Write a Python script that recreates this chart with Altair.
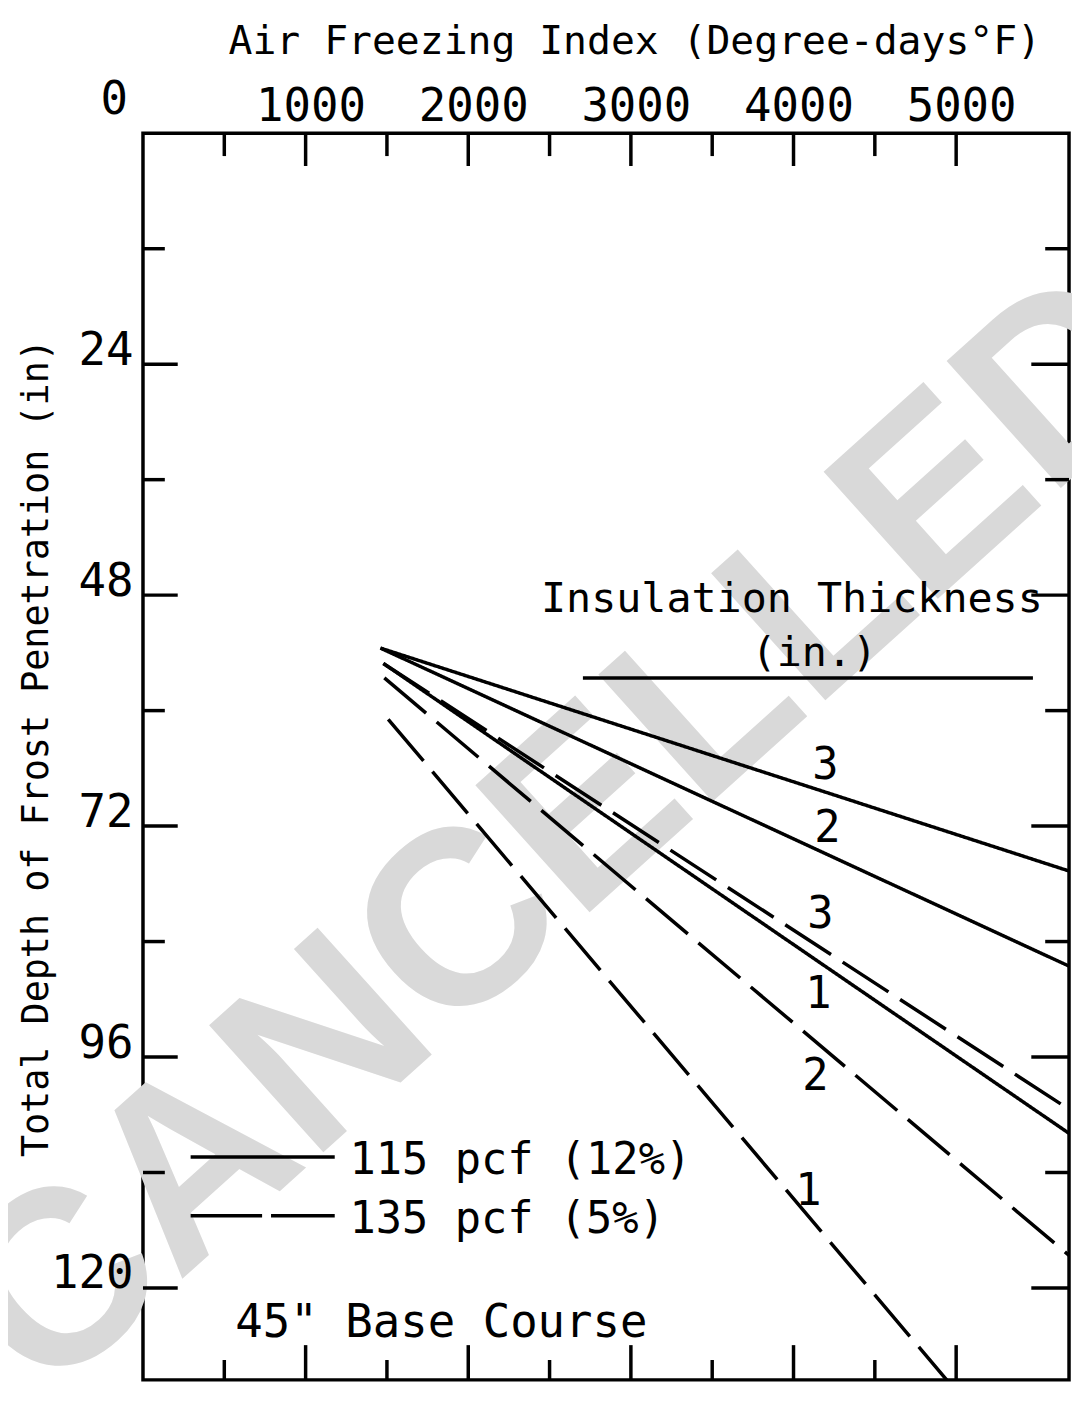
import altair as alt
import pandas as pd

FONT = "DejaVu Sans Mono"
INK = "black"

# ---------------- data ----------------
curve_id = ["s3", "s2", "s1", "d3", "d2", "d1"]
curve_density = ["115 pcf (12%)"] * 3 + ["135 pcf (5%)"] * 3
curve_x0 = [1460, 1460, 1478, 1478, 1484, 1508]
curve_y0 = [53.5, 53.5, 55.1, 55.1, 56.6, 60.9]
curve_x1 = [5700, 5700, 5700, 5700, 5700, 5014]
curve_y1 = [76.7, 86.6, 104.0, 101.5, 116.7, 131.0]

x_major = [1000, 2000, 3000, 4000, 5000]
x_minor = [500, 1500, 2500, 3500, 4500]
y_major = [24, 48, 72, 96, 120]
y_minor = [12, 36, 60, 84, 108]

thick_label = ["3", "2", "3", "1", "2", "1"]
thick_x = [4196, 4208, 4165, 4153, 4135, 4092]
thick_y = [65.8, 72.3, 81.2, 89.6, 98.1, 110.0]

legend_label = ["115 pcf (12%)", "135 pcf (5%)"]
legend_y = [106.4, 112.5]
legend_text_y = [106.8, 112.9]
legend_x0 = [293, 293]
legend_x1 = [1179, 1179]
legend_text_x = [1270, 1270]

W, H = 933, 1256
xs = alt.Scale(domain=[0, 5694], nice=False, zero=False)
ys = alt.Scale(domain=[0, 129.55], nice=False, zero=False, reverse=True)

x_axis = alt.Axis(
    orient="top", values=x_major, format="d", ticks=False, tickSize=0, domain=False, grid=False,
    labelFont=FONT, labelFontSize=46, labelColor=INK, labelPadding=13, labelBaseline="alphabetic",
    labelOffset=5,
    title="Air Freezing Index (Degree-days°F)", titleFont=FONT, titleFontSize=40,
    titleFontWeight="normal", titleColor=INK, titleX=495, titleY=-80,
    titleAlign="center", titleBaseline="alphabetic", zindex=2)
y_axis = alt.Axis(
    orient="left", values=y_major, format="d", ticks=False, tickSize=0, domain=False, grid=False,
    labelFont=FONT, labelFontSize=46, labelColor=INK, labelPadding=10, labelBaseline="alphabetic",
    labelOffset=0,
    title="Total Depth of Frost Penetration (in)", titleFont=FONT, titleFontSize=37,
    titleFontWeight="normal", titleColor=INK, titleAngle=270, titleX=-96, titleY=619,
    titleAlign="center", titleBaseline="alphabetic", zindex=2)

def X(f):
    return alt.X(f, scale=xs, axis=x_axis)

def Y(f):
    return alt.Y(f, scale=ys, axis=y_axis)

rows = []
for i in range(len(curve_id)):
    rows.append({"id": curve_id[i], "density": curve_density[i], "x": curve_x0[i], "y": curve_y0[i]})
    rows.append({"id": curve_id[i], "density": curve_density[i], "x": curve_x1[i], "y": curve_y1[i]})
curves = pd.DataFrame(rows)

# watermark
wm = alt.Chart(pd.DataFrame({"t": ["CANCELLED"], "x": [2585], "y": [73.0]})).mark_text(
    font="Liberation Sans", fontWeight="bold", fontSize=250, color="#d9d9d9",
    angle=318, align="center", baseline="middle"
).encode(x=X("x:Q"), y=Y("y:Q"), text="t:N")

lines = alt.Chart(curves).mark_line(strokeWidth=3.5, color=INK, strokeCap="butt", clip=True).encode(
    x=X("x:Q"), y=Y("y:Q"),
    detail="id:N",
    strokeDash=alt.StrokeDash("density:N", scale=alt.Scale(domain=legend_label, range=[[1, 0], [55, 14]]), legend=None),
)

def xt(vals, y0, y1):
    return alt.Chart(pd.DataFrame({"v": vals})).mark_rule(strokeWidth=3.5, color=INK).encode(
        x=X("v:Q"), y=alt.value(y0), y2=alt.value(y1))

def yt(vals, x0, x1):
    return alt.Chart(pd.DataFrame({"v": vals})).mark_rule(strokeWidth=3.5, color=INK).encode(
        y=Y("v:Q"), x=alt.value(x0), x2=alt.value(x1))

ticks = [
    xt(x_major, 0, 33), xt(x_minor, 0, 23),
    xt(x_major, H, H - 35), xt(x_minor, H, H - 20),
    yt(y_major, 0, 35), yt(y_minor, 0, 22),
    yt(y_major, W, W - 38), yt(y_minor, W, W - 24),
]

def txt(df, size, align="center", baseline="middle"):
    return alt.Chart(df).mark_text(font=FONT, fontSize=size, color=INK, align=align, baseline=baseline).encode(
        x=X("x:Q"), y=Y("y:Q"), text="t:N")

thick = txt(pd.DataFrame({"t": thick_label, "x": thick_x, "y": thick_y}), 44)
ins = txt(pd.DataFrame({"t": ["Insulation Thickness", "(in.)"], "x": [3990, 4128], "y": [48.4, 54.0]}), 42)
ins_rule = alt.Chart(pd.DataFrame({"x0": [2705], "x1": [5472], "y": [56.6]})).mark_rule(strokeWidth=3.5, color=INK).encode(
    x=X("x0:Q"), x2="x1:Q", y=Y("y:Q"))
base = txt(pd.DataFrame({"t": ['45" Base Course'], "x": [568], "y": [123.6]}), 46, align="left")
origin = txt(pd.DataFrame({"t": ["0"], "x": [-177], "y": [-3.4]}), 46)

leg_solid = alt.Chart(pd.DataFrame({"x0": [legend_x0[0]], "x1": [legend_x1[0]], "y": [legend_y[0]]})).mark_rule(
    strokeWidth=3.5, color=INK).encode(x=X("x0:Q"), x2="x1:Q", y=Y("y:Q"))
leg_dash = alt.Chart(pd.DataFrame({"x0": [legend_x0[1]], "x1": [legend_x1[1]], "y": [legend_y[1]]})).mark_rule(
    strokeWidth=3.5, color=INK, strokeDash=[72, 9]).encode(x=X("x0:Q"), x2="x1:Q", y=Y("y:Q"))
leg_text = txt(pd.DataFrame({"t": legend_label, "x": legend_text_x, "y": legend_text_y}), 44, align="left")

chart = alt.layer(wm, lines, *ticks, thick, ins, ins_rule, base, origin, leg_solid, leg_dash, leg_text).properties(
    width=W, height=H,
    autosize=alt.AutoSizeParams(type="none"),
    padding={"left": 136, "top": 121, "right": 3, "bottom": 2},
    background="white",
).configure_view(stroke=INK, strokeWidth=3.5)

chart.save("out.html", embed_options={"renderer": "svg", "actions": False})
